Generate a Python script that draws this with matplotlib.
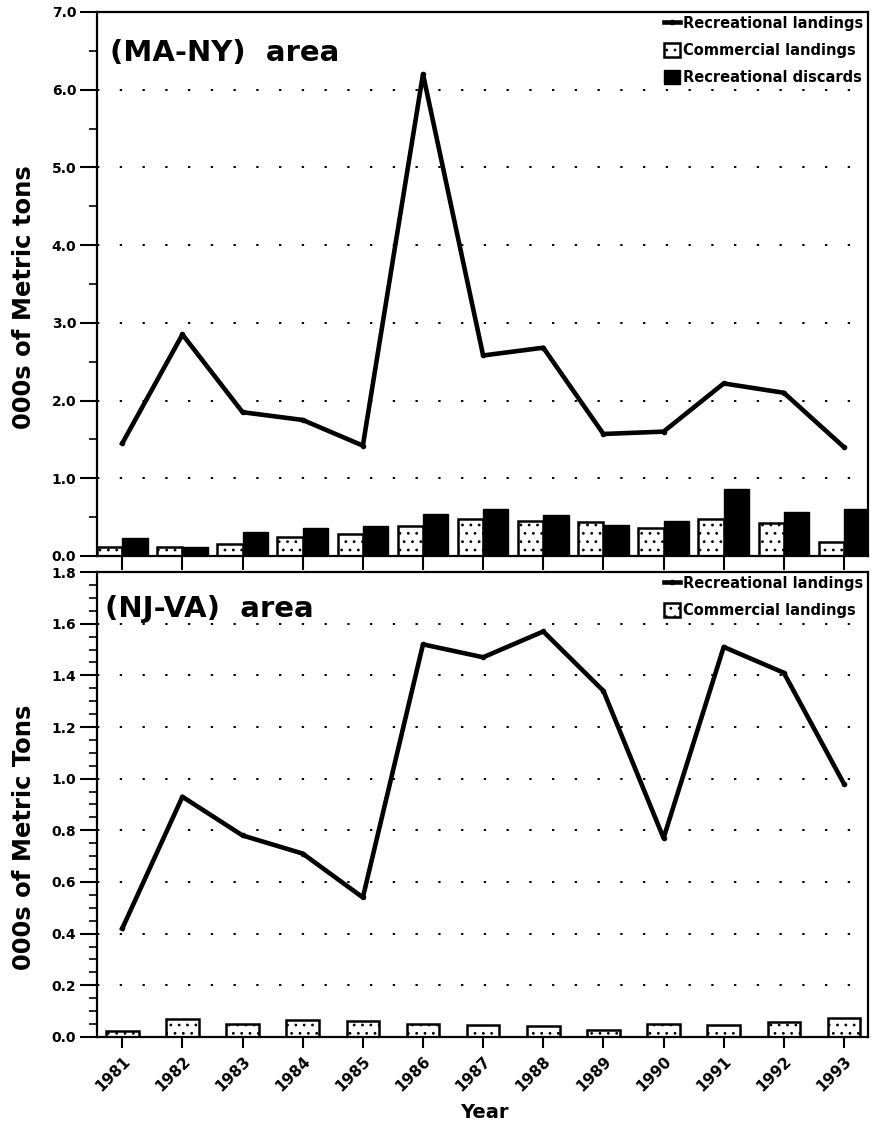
import matplotlib
matplotlib.use("Agg")
import matplotlib.pyplot as plt
import numpy as np
from matplotlib.ticker import MultipleLocator

plt.rcParams['font.family'] = ['DejaVu Sans']
plt.rcParams['font.weight'] = 'bold'
plt.rcParams['hatch.linewidth'] = 0.8

years = ['1981', '1982', '1983', '1984', '1985', '1986', '1987',
         '1988', '1989', '1990', '1991', '1992', '1993']

# (MA-NY) area
ma_rec_landings = [1.45, 2.85, 1.85, 1.75, 1.42, 6.20, 2.58, 2.68, 1.57, 1.60, 2.22, 2.10, 1.40]
ma_comm_landings = [0.12, 0.12, 0.15, 0.25, 0.28, 0.38, 0.48, 0.45, 0.44, 0.36, 0.47, 0.42, 0.18]
ma_rec_discards = [0.23, 0.11, 0.31, 0.36, 0.39, 0.54, 0.61, 0.53, 0.40, 0.45, 0.86, 0.56, 0.61]

# (NJ-VA) area
nj_rec_landings = [0.42, 0.93, 0.78, 0.71, 0.54, 1.52, 1.47, 1.57, 1.34, 0.77, 1.51, 1.41, 0.98]
nj_comm_landings = [0.023, 0.071, 0.052, 0.065, 0.062, 0.050, 0.047, 0.044, 0.028, 0.052, 0.048, 0.058, 0.074]

x = np.arange(len(years))

fig = plt.figure(figsize=(8.71, 11.4), dpi=100)
ax1 = fig.add_axes([0.1114, 0.5123, 0.8852, 0.4772])
ax2 = fig.add_axes([0.1114, 0.0904, 0.8852, 0.4078])

grid_style = dict(color='black', linewidth=1.4, linestyle=(0, (1.2, 10.5)), zorder=0)

def style_axis(ax, xtick_len):
    for s in ax.spines.values():
        s.set_linewidth(1.6)
    ax.set_xlim(-0.42, 12.4)
    ax.set_xticks(x)
    ax.tick_params(axis='y', which='major', direction='out', length=12, width=1.5,
                   labelsize=10, pad=3)
    ax.tick_params(axis='x', which='major', direction='out', length=xtick_len, width=1.5,
                   labelsize=11, pad=4)
    ax.tick_params(axis='y', which='minor', direction='out', length=6, width=1.2)
    ax.tick_params(axis='x', which='minor', bottom=False)

legend_kw = dict(frameon=False, prop={'weight': 'bold', 'size': 10.5}, handlelength=1.1,
                 handleheight=1.1, handletextpad=0.25, borderaxespad=0.0, borderpad=0.3,
                 labelspacing=0.8, loc='upper right', bbox_to_anchor=(1.0, 1.0))

# Top panel
b1 = ax1.bar(x - 0.21, ma_comm_landings, width=0.42, facecolor='white', edgecolor='black',
             linewidth=1.8, hatch='..', zorder=2, label='Commercial landings')
b2 = ax1.bar(x + 0.21, ma_rec_discards, width=0.42, color='black', edgecolor='black',
             zorder=2, label='Recreational discards')
l1, = ax1.plot(x, ma_rec_landings, color='black', linewidth=3.3, marker='o', markersize=3,
               zorder=3, label='Recreational landings')
ax1.set_ylim(0, 7.0)
yt1 = np.arange(0, 7.01, 1.0)
ax1.set_yticks(yt1)
ax1.set_yticklabels([f'{v:.1f}' for v in yt1], fontweight='bold')
ax1.yaxis.set_minor_locator(MultipleLocator(0.5))
for v in yt1[1:-1]:
    ax1.axhline(v, **grid_style)
style_axis(ax1, 10)
ax1.set_xticklabels([])
ax1.set_ylabel('000s of Metric tons', fontsize=17.5, fontweight='bold')
ax1.yaxis.set_label_coords(-0.079, 0.475)
ax1.text(0.017, 0.925, '(MA-NY)  area', transform=ax1.transAxes, fontsize=21,
         fontweight='bold', va='center', ha='left')
ax1.legend(handles=[l1, b1, b2], **legend_kw)

# Bottom panel
b3 = ax2.bar(x, nj_comm_landings, width=0.54, facecolor='white', edgecolor='black',
             linewidth=1.8, hatch='..', zorder=2, label='Commercial landings')
l2, = ax2.plot(x, nj_rec_landings, color='black', linewidth=3.3, marker='o', markersize=3,
               zorder=3, label='Recreational landings')
ax2.set_ylim(0, 1.8)
yt2 = np.arange(0, 1.81, 0.2)
ax2.set_yticks(yt2)
ax2.set_yticklabels([f'{v:.1f}' for v in yt2], fontweight='bold')
ax2.yaxis.set_minor_locator(MultipleLocator(0.05))
for v in yt2[1:-1]:
    ax2.axhline(v, **grid_style)
style_axis(ax2, 8)
ax2.set_xticklabels(years, rotation=45, ha='right', rotation_mode='anchor',
                    fontweight='bold', fontsize=11)
ax2.set_ylabel('000s of Metric Tons', fontsize=17.5, fontweight='bold')
ax2.yaxis.set_label_coords(-0.079, 0.43)
ax2.set_xlabel('Year', fontsize=14, fontweight='bold')
ax2.xaxis.set_label_coords(0.502, -0.142)
ax2.text(0.01, 0.92, '(NJ-VA)  area', transform=ax2.transAxes, fontsize=21,
         fontweight='bold', va='center', ha='left')
ax2.legend(handles=[l2, b3], **legend_kw)

fig.savefig('out.png', dpi=100)
